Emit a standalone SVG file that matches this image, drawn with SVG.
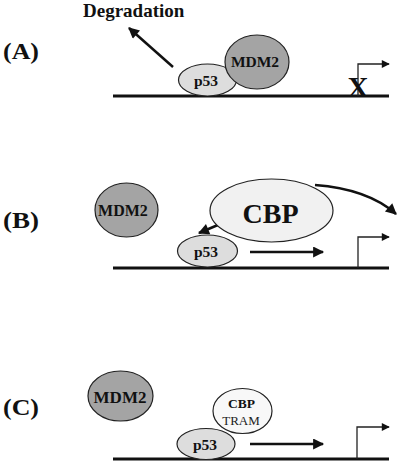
<svg xmlns="http://www.w3.org/2000/svg" width="400" height="464" viewBox="0 0 400 464">
<style>
.t{font-family:"Liberation Serif","Times New Roman",serif;font-weight:bold;fill:#111}
.r{font-family:"Liberation Serif","Times New Roman",serif;fill:#222}
.mdm2{fill:#a4a4a4;stroke:#222;stroke-width:1.2}
.p53{fill:#dddddd;stroke:#222;stroke-width:1.2}
.cbp{fill:#f1f1f1;stroke:#222;stroke-width:1.2}
.dna{stroke:#111;stroke-width:3;fill:none}
.prom{stroke:#222;stroke-width:1.3;fill:none}
.arr{stroke:#111;stroke-width:2.5;fill:none}
</style>
<defs>
<marker id="ah" viewBox="0 0 10 10" refX="9" refY="5" markerWidth="13" markerHeight="11" markerUnits="userSpaceOnUse" orient="auto">
<path d="M0,0 L10,5 L0,10 Z" fill="#111"/>
</marker>
<marker id="ahs" viewBox="0 0 10 10" refX="9" refY="5" markerWidth="9" markerHeight="8" markerUnits="userSpaceOnUse" orient="auto">
<path d="M0,0 L10,5 L0,10 Z" fill="#111"/>
</marker>
</defs>

<g id="labels">
<text class="t" x="3" y="59" font-size="23" textLength="36" lengthAdjust="spacingAndGlyphs">(A)</text>
<text class="t" x="3" y="228" font-size="23" textLength="36" lengthAdjust="spacingAndGlyphs">(B)</text>
<text class="t" x="3" y="415" font-size="23" textLength="36" lengthAdjust="spacingAndGlyphs">(C)</text>
<text class="t" x="83" y="17" font-size="19">Degradation</text>
</g>

<g id="dna">
<line class="dna" x1="113" y1="96" x2="389" y2="96"/>
<line class="dna" x1="113" y1="268" x2="389" y2="268"/>
<line class="dna" x1="113" y1="459" x2="389" y2="459"/>
</g>

<g id="connectors">
<line class="arr" x1="173" y1="67" x2="129" y2="28" marker-end="url(#ah)"/>
<path class="prom" d="M358,96 V64 H389" marker-end="url(#ahs)"/>
<line class="arr" x1="232" y1="219" x2="199" y2="233" stroke-width="2" marker-end="url(#ah)"/>
<line class="arr" x1="250" y1="252" x2="323" y2="252" stroke-width="2" marker-end="url(#ah)"/>
<path class="arr" d="M315,185 Q368,189 396,214" stroke-width="2.5" marker-end="url(#ah)"/>
<path class="prom" d="M358,268 V237 H389" marker-end="url(#ahs)"/>
<line class="arr" x1="250" y1="444" x2="323" y2="444" stroke-width="2" marker-end="url(#ah)"/>
<path class="prom" d="M357,459 V427 H389" marker-end="url(#ahs)"/>
</g>

<g id="blockX">
<text class="t" x="358" y="97" font-size="29" text-anchor="middle">X</text>
</g>

<g id="A-p53">
<ellipse class="p53" cx="207.5" cy="80" rx="29" ry="16"/>
<text class="t" x="206" y="86" font-size="15.5" text-anchor="middle">p53</text>
</g>
<g id="A-mdm2">
<ellipse class="mdm2" cx="257" cy="62" rx="32" ry="27"/>
<text class="t" x="255" y="67" font-size="15.5" text-anchor="middle">MDM2</text>
</g>

<g id="B-mdm2">
<ellipse class="mdm2" cx="126.5" cy="210" rx="31.5" ry="27"/>
<text class="t" x="123" y="216" font-size="16" text-anchor="middle">MDM2</text>
</g>
<g id="B-cbp">
<ellipse class="cbp" cx="271.5" cy="210.5" rx="61.5" ry="31.5"/>
<text class="t" x="270.5" y="223" font-size="28" text-anchor="middle">CBP</text>
</g>
<g id="B-p53">
<ellipse class="p53" cx="207.5" cy="251" rx="30" ry="16"/>
<text class="t" x="206" y="257" font-size="15.5" text-anchor="middle">p53</text>
</g>

<g id="C-mdm2">
<ellipse class="mdm2" cx="120.5" cy="396" rx="32.5" ry="25"/>
<text class="t" x="120" y="403" font-size="17" text-anchor="middle">MDM2</text>
</g>
<g id="C-cbptram">
<ellipse cx="242.5" cy="411" rx="29.5" ry="22.5" fill="#f8f8f8" stroke="#222" stroke-width="1.2"/>
<text class="t" x="241.5" y="408" font-size="13.5" text-anchor="middle">CBP</text>
<text class="r" x="241" y="425" font-size="13" text-anchor="middle">TRAM</text>
</g>
<g id="C-p53">
<ellipse class="p53" cx="206" cy="444" rx="29" ry="15.5"/>
<text class="t" x="205" y="450" font-size="15.5" text-anchor="middle">p53</text>
</g>
</svg>
